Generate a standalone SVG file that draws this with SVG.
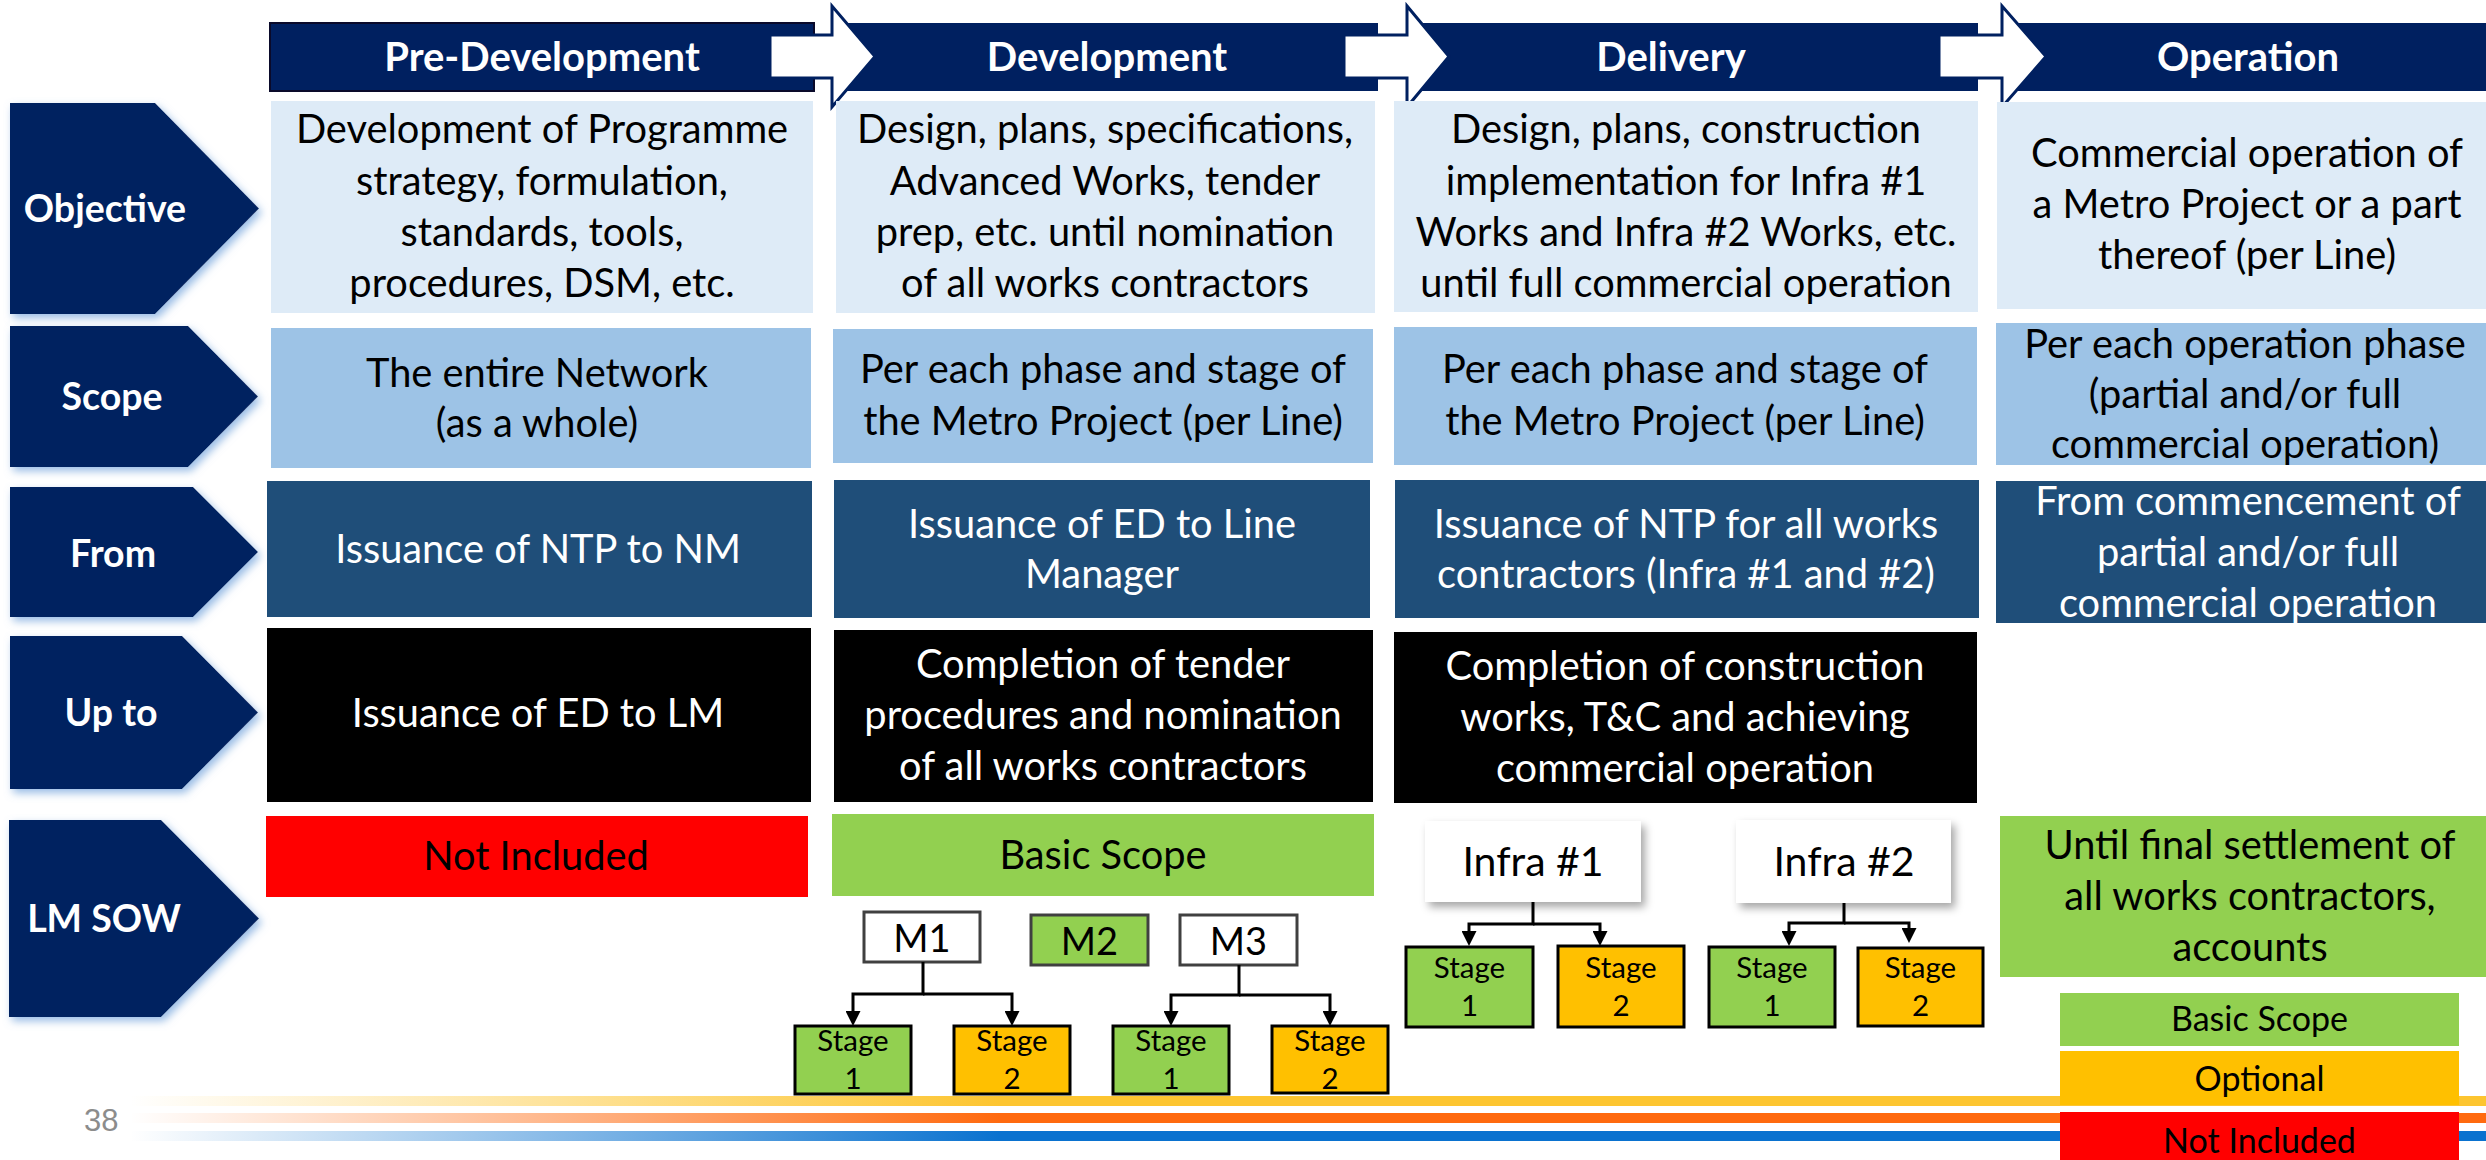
<svg xmlns="http://www.w3.org/2000/svg" width="2486" height="1160" viewBox="0 0 2486 1160">
  <style>
    text { font-family: Lato, "Open Sans", "Liberation Sans", sans-serif; text-anchor: middle; }
    .hdr { font-size: 40px; font-weight: 700; fill: #ffffff; }
    .lbl { font-size: 37.5px; font-weight: 700; fill: #ffffff; }
    .body { font-size: 39.8px; fill: #000000; }
    .wbody { font-size: 39.8px; fill: #ffffff; }
    .mtxt { font-size: 38px; fill: #000000; }
    .itxt { font-size: 41px; fill: #000000; }
    .stg { font-size: 29.5px; fill: #000000; }
    .leg { font-size: 34px; fill: #000000; }
    .navy { fill: #002060; }
    .obj { fill: #DEEBF7; }
    .scp { fill: #9DC3E6; }
    .frm { fill: #1F4E79; }
    .upt { fill: #000000; }
    .green { fill: #92D050; }
    .amber { fill: #FFC000; }
    .red { fill: #FF0000; }
    .stage { stroke: #000000; stroke-width: 3; }
    .mbox { stroke: #404040; stroke-width: 3; }
    .arrow { fill: #ffffff; stroke: #002060; stroke-width: 3; stroke-linejoin: miter; }
    .conn { fill: none; stroke: #000000; stroke-width: 3; }
  </style>
  <defs>
    <filter id="glow" x="-10%" y="-10%" width="130%" height="130%">
      <feDropShadow dx="3" dy="4" stdDeviation="4" flood-color="#8DB4E2" flood-opacity="0.9"/>
    </filter>
    <filter id="shadow" x="-10%" y="-10%" width="130%" height="140%">
      <feDropShadow dx="4" dy="5" stdDeviation="4" flood-color="#000000" flood-opacity="0.35"/>
    </filter>
    <marker id="tip" viewBox="0 0 10 10" refX="0" refY="5" markerWidth="15" markerHeight="15" markerUnits="userSpaceOnUse" orient="auto">
      <path d="M0,0 L10,5 L0,10 z" fill="#000000"/>
    </marker>
    <linearGradient id="gY" x1="130" y1="0" x2="1000" y2="0" gradientUnits="userSpaceOnUse">
      <stop offset="0" stop-color="#FDC530" stop-opacity="0"/>
      <stop offset="1" stop-color="#FDC530" stop-opacity="1"/>
    </linearGradient>
    <linearGradient id="gO" x1="130" y1="0" x2="1000" y2="0" gradientUnits="userSpaceOnUse">
      <stop offset="0" stop-color="#FF6A0F" stop-opacity="0"/>
      <stop offset="1" stop-color="#FF6A0F" stop-opacity="1"/>
    </linearGradient>
    <linearGradient id="gB" x1="130" y1="0" x2="1000" y2="0" gradientUnits="userSpaceOnUse">
      <stop offset="0" stop-color="#0A72CF" stop-opacity="0"/>
      <stop offset="1" stop-color="#0A72CF" stop-opacity="1"/>
    </linearGradient>
  </defs>

  <rect width="2486" height="1160" fill="#ffffff"/>

  <!-- footer stripes and page number -->
  <g id="footer">
    <rect x="130" y="1096" width="2356" height="10" fill="url(#gY)"/>
    <rect x="130" y="1113" width="2356" height="10" fill="url(#gO)"/>
    <rect x="130" y="1131" width="2356" height="10" fill="url(#gB)"/>
    <text x="84" y="1131" style="font-family:'Liberation Sans',Arial,sans-serif;font-size:31px;fill:#8C8C8C;text-anchor:start">38</text>
  </g>

  <!-- phase header bars -->
  <g id="phase-pre-development">
    <rect class="navy" x="270" y="23" width="544" height="68" stroke="#0A0A2A" stroke-width="2"/>
    <text class="hdr" x="542" y="71">Pre-Development</text>
  </g>
  <g id="phase-development">
    <rect class="navy" x="832" y="23" width="546" height="68"/>
    <text class="hdr" x="1107" y="71">Development</text>
  </g>
  <g id="phase-delivery">
    <rect class="navy" x="1407" y="23" width="571" height="68"/>
    <text class="hdr" x="1671" y="71">Delivery</text>
  </g>
  <g id="phase-operation">
    <rect class="navy" x="2002" y="23" width="484" height="68"/>
    <text class="hdr" x="2248" y="71">Operation</text>
  </g>
  <g id="phase-arrows">
    <polygon class="arrow" points="770,35 832,35 832,6 875,56.5 832,107 832,78 770,78"/>
    <polygon class="arrow" points="1344,35 1407,35 1407,6 1449,56.5 1407,107 1407,78 1344,78"/>
    <polygon class="arrow" points="1939,35 2002,35 2002,6 2046,56.5 2002,107 2002,78 1939,78"/>
  </g>

  <!-- row labels -->
  <g id="label-objective">
    <polygon class="navy" filter="url(#glow)" points="10,103 155,103 259,208.5 155,314 10,314"/>
    <text class="lbl" x="105" y="222">Objective</text>
  </g>
  <g id="label-scope">
    <polygon class="navy" filter="url(#glow)" points="10,326 188,326 258,396.5 188,467 10,467"/>
    <text class="lbl" x="112" y="410">Scope</text>
  </g>
  <g id="label-from">
    <polygon class="navy" filter="url(#glow)" points="10,487 193,487 258,552 193,617 10,617"/>
    <text class="lbl" x="113" y="567">From</text>
  </g>
  <g id="label-upto">
    <polygon class="navy" filter="url(#glow)" points="10,636 182,636 258,712.5 182,789 10,789"/>
    <text class="lbl" x="111" y="726">Up to</text>
  </g>
  <g id="label-lmsow">
    <polygon class="navy" filter="url(#glow)" points="9,820 161,820 259,918.5 161,1017 9,1017"/>
    <text class="lbl" x="104" y="932">LM SOW</text>
  </g>

  <!-- Objective row -->
  <g id="objective-pre">
    <rect class="obj" x="271" y="101" width="542" height="212"/>
    <text class="body" x="542" y="143">Development of Programme</text>
    <text class="body" x="542" y="195">strategy, formulation,</text>
    <text class="body" x="542" y="246">standards, tools,</text>
    <text class="body" x="542" y="297">procedures, DSM, etc.</text>
  </g>
  <g id="objective-dev">
    <rect class="obj" x="836" y="101" width="539" height="212"/>
    <text class="body" x="1105" y="143">Design, plans, specifications,</text>
    <text class="body" x="1105" y="195">Advanced Works, tender</text>
    <text class="body" x="1105" y="246">prep, etc. until nomination</text>
    <text class="body" x="1105" y="297">of all works contractors</text>
  </g>
  <g id="objective-del">
    <rect class="obj" x="1394" y="101" width="584" height="211"/>
    <text class="body" x="1686" y="143">Design, plans, construction</text>
    <text class="body" x="1686" y="195">implementation for Infra #1</text>
    <text class="body" x="1686" y="246">Works and Infra #2 Works, etc.</text>
    <text class="body" x="1686" y="297">until full commercial operation</text>
  </g>
  <g id="objective-op">
    <rect class="obj" x="1997" y="102" width="489" height="207"/>
    <text class="body" x="2247" y="167">Commercial operation of</text>
    <text class="body" x="2247" y="218">a Metro Project or a part</text>
    <text class="body" x="2247" y="269">thereof (per Line)</text>
  </g>

  <!-- Scope row -->
  <g id="scope-pre">
    <rect class="scp" x="271" y="328" width="540" height="140"/>
    <text class="body" x="537" y="387">The entire Network</text>
    <text class="body" x="537" y="437">(as a whole)</text>
  </g>
  <g id="scope-dev">
    <rect class="scp" x="833" y="329" width="540" height="134"/>
    <text class="body" x="1103" y="383">Per each phase and stage of</text>
    <text class="body" x="1103" y="435">the Metro Project (per Line)</text>
  </g>
  <g id="scope-del">
    <rect class="scp" x="1394" y="327" width="583" height="138"/>
    <text class="body" x="1685" y="383">Per each phase and stage of</text>
    <text class="body" x="1685" y="435">the Metro Project (per Line)</text>
  </g>
  <g id="scope-op">
    <rect class="scp" x="1996" y="323" width="490" height="142"/>
    <text class="body" x="2245" y="358">Per each operation phase</text>
    <text class="body" x="2245" y="408">(partial and/or full</text>
    <text class="body" x="2245" y="458">commercial operation)</text>
  </g>

  <!-- From row -->
  <g id="from-pre">
    <rect class="frm" x="267" y="481" width="545" height="136"/>
    <text class="wbody" x="538" y="563">Issuance of NTP to NM</text>
  </g>
  <g id="from-dev">
    <rect class="frm" x="834" y="480" width="536" height="138"/>
    <text class="wbody" x="1102" y="538">Issuance of ED to Line</text>
    <text class="wbody" x="1102" y="588">Manager</text>
  </g>
  <g id="from-del">
    <rect class="frm" x="1395" y="480" width="584" height="138"/>
    <text class="wbody" x="1686" y="538">Issuance of NTP for all works</text>
    <text class="wbody" x="1686" y="588">contractors (Infra #1 and #2)</text>
  </g>
  <g id="from-op">
    <rect class="frm" x="1996" y="481" width="490" height="142"/>
    <text class="wbody" x="2248" y="515">From commencement of</text>
    <text class="wbody" x="2248" y="566">partial and/or full</text>
    <text class="wbody" x="2248" y="617">commercial operation</text>
  </g>

  <!-- Up to row -->
  <g id="upto-pre">
    <rect class="upt" x="267" y="628" width="544" height="174"/>
    <text class="wbody" x="538" y="727">Issuance of ED to LM</text>
  </g>
  <g id="upto-dev">
    <rect class="upt" x="834" y="630" width="539" height="172"/>
    <text class="wbody" x="1103" y="678">Completion of tender</text>
    <text class="wbody" x="1103" y="729">procedures and nomination</text>
    <text class="wbody" x="1103" y="780">of all works contractors</text>
  </g>
  <g id="upto-del">
    <rect class="upt" x="1394" y="632" width="583" height="171"/>
    <text class="wbody" x="1685" y="680">Completion of construction</text>
    <text class="wbody" x="1685" y="731">works, T&amp;C and achieving</text>
    <text class="wbody" x="1685" y="782">commercial operation</text>
  </g>

  <!-- LM SOW row -->
  <g id="sow-pre">
    <rect class="red" x="266" y="816" width="542" height="81"/>
    <text class="body" x="536" y="870">Not Included</text>
  </g>
  <g id="sow-dev">
    <rect class="green" x="832" y="814" width="542" height="82"/>
    <text class="body" x="1103" y="869">Basic Scope</text>
  </g>
  <g id="sow-op">
    <rect class="green" x="2000" y="816" width="486" height="161"/>
    <text class="body" x="2250" y="859">Until final settlement of</text>
    <text class="body" x="2250" y="910">all works contractors,</text>
    <text class="body" x="2250" y="961">accounts</text>
  </g>

  <!-- milestone packages -->
  <g id="m1">
    <rect class="mbox" x="864" y="912" width="116" height="50" fill="#ffffff"/>
    <text class="mtxt" x="922" y="952">M1</text>
  </g>
  <g id="m2">
    <rect class="mbox green" x="1031" y="915" width="117" height="50"/>
    <text class="mtxt" x="1089.5" y="955">M2</text>
  </g>
  <g id="m3">
    <rect class="mbox" x="1180" y="915" width="117" height="50" fill="#ffffff"/>
    <text class="mtxt" x="1238.5" y="955">M3</text>
  </g>
  <g id="m1-stage1">
    <rect class="stage green" x="795" y="1026" width="116" height="68"/>
    <text class="stg" x="853" y="1051">Stage</text>
    <text class="stg" x="853" y="1089">1</text>
  </g>
  <g id="m1-stage2">
    <rect class="stage amber" x="954" y="1026" width="116" height="68"/>
    <text class="stg" x="1012" y="1051">Stage</text>
    <text class="stg" x="1012" y="1089">2</text>
  </g>
  <g id="m3-stage1">
    <rect class="stage green" x="1113" y="1026" width="116" height="68"/>
    <text class="stg" x="1171" y="1051">Stage</text>
    <text class="stg" x="1171" y="1089">1</text>
  </g>
  <g id="m3-stage2">
    <rect class="stage amber" x="1272" y="1026" width="116" height="67"/>
    <text class="stg" x="1330" y="1051">Stage</text>
    <text class="stg" x="1330" y="1089">2</text>
  </g>

  <!-- infrastructure packages -->
  <g id="infra1">
    <rect x="1425" y="821" width="216" height="81" fill="#ffffff" filter="url(#shadow)"/>
    <text class="itxt" x="1533" y="876">Infra #1</text>
  </g>
  <g id="infra2">
    <rect x="1736" y="820" width="215" height="83" fill="#ffffff" filter="url(#shadow)"/>
    <text class="itxt" x="1844" y="876">Infra #2</text>
  </g>
  <g id="infra1-stage1">
    <rect class="stage green" x="1406" y="947" width="127" height="80"/>
    <text class="stg" x="1469.5" y="978">Stage</text>
    <text class="stg" x="1469.5" y="1016">1</text>
  </g>
  <g id="infra1-stage2">
    <rect class="stage amber" x="1558" y="946" width="126" height="81"/>
    <text class="stg" x="1621" y="978">Stage</text>
    <text class="stg" x="1621" y="1016">2</text>
  </g>
  <g id="infra2-stage1">
    <rect class="stage green" x="1709" y="947" width="126" height="80"/>
    <text class="stg" x="1772" y="978">Stage</text>
    <text class="stg" x="1772" y="1016">1</text>
  </g>
  <g id="infra2-stage2">
    <rect class="stage amber" x="1858" y="948" width="125" height="78"/>
    <text class="stg" x="1920.5" y="978">Stage</text>
    <text class="stg" x="1920.5" y="1016">2</text>
  </g>

  <!-- legend -->
  <g id="legend-basic">
    <rect class="green" x="2060" y="993" width="399" height="53"/>
    <text class="leg" x="2259.5" y="1031">Basic Scope</text>
  </g>
  <g id="legend-optional">
    <rect class="amber" x="2060" y="1051" width="399" height="54"/>
    <text class="leg" x="2259.5" y="1091">Optional</text>
  </g>
  <g id="legend-excluded">
    <rect class="red" x="2060" y="1112" width="399" height="48"/>
    <text class="leg" x="2259.5" y="1153">Not Included</text>
  </g>

  <!-- connectors: package to stage -->
  <g id="connectors">
    <path class="conn" d="M923,962 V994 H853 V1011" marker-end="url(#tip)"/>
    <path class="conn" d="M923,994 H1012 V1011" marker-end="url(#tip)"/>
    <path class="conn" d="M1239,965 V995 H1171 V1011" marker-end="url(#tip)"/>
    <path class="conn" d="M1239,995 H1330 V1011" marker-end="url(#tip)"/>
    <path class="conn" d="M1533,902 V924 H1469 V931" marker-end="url(#tip)"/>
    <path class="conn" d="M1533,924 H1600 V931" marker-end="url(#tip)"/>
    <path class="conn" d="M1844,903 V923 H1789 V931" marker-end="url(#tip)"/>
    <path class="conn" d="M1844,923 H1909 V928" marker-end="url(#tip)"/>
  </g>
</svg>
